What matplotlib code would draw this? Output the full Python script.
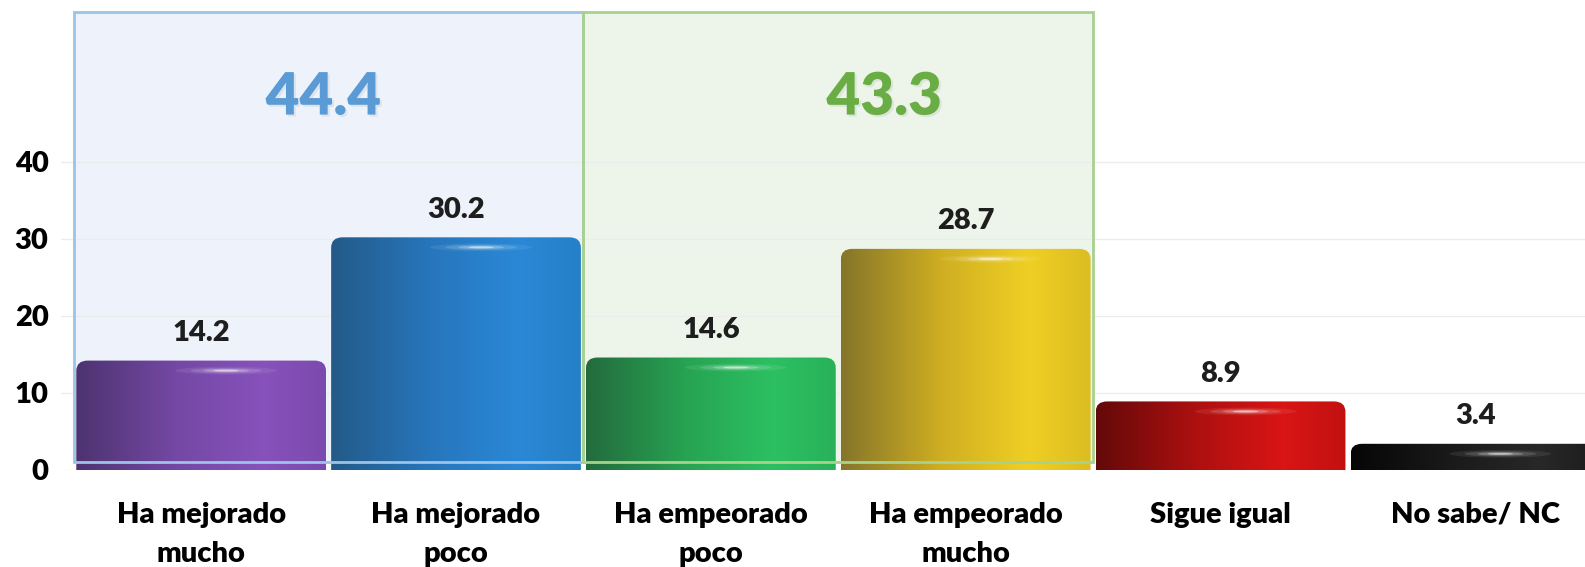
import matplotlib.pyplot as plt
import matplotlib.patheffects as pe
import numpy as np
from matplotlib.colors import LinearSegmentedColormap
from matplotlib.patches import FancyBboxPatch, Rectangle, Ellipse

plt.rcParams['font.family'] = ['Lato', 'DejaVu Sans']
plt.rcParams['font.weight'] = 'bold'

categories = ['Ha mejorado\nmucho', 'Ha mejorado\npoco', 'Ha empeorado\npoco',
              'Ha empeorado\nmucho', 'Sigue igual', 'No sabe/ NC']
values = [14.2, 30.2, 14.6, 28.7, 8.9, 3.4]
labels = ['14.2', '30.2', '14.6', '28.7', '8.9', '3.4']
# grupos: mejorado (0-1) y empeorado (2-3)
group_totals = ['44.4', '43.3']
yticks = [0, 10, 20, 30, 40]

# degradados de cada cilindro: izquierda oscura -> brillo -> borde
bar_colors = [
    ['#4d3370', '#7448a4', '#8752bb', '#7c4aae'],
    ['#235a88', '#2776bc', '#2a88d6', '#2680c8'],
    ['#236b3d', '#27a352', '#2cc062', '#29b159'],
    ['#85752a', '#cfae22', '#efcf24', '#dcbd22'],
    ['#640909', '#ad1010', '#d91515', '#c21111'],
    ['#060606', '#1a1a1a', '#282828', '#1c1c1c'],
]

fig = plt.figure(figsize=(15.85, 5.67), dpi=100)
ax = fig.add_axes([61 / 1585, 97 / 567, 1 - 61 / 1585, 470 / 567])

x = np.arange(len(values))
bars = ax.bar(x, values, width=0.98, color='none', zorder=2)

grad = np.linspace(0, 1, 256).reshape(1, -1)
for rect, cols in zip(bars, bar_colors):
    x0, w, h = rect.get_x(), rect.get_width(), rect.get_height()
    cmap = LinearSegmentedColormap.from_list('c', list(zip([0, 0.4, 0.75, 1.0], cols)))
    shape = FancyBboxPatch((x0, -3), w, h + 3, boxstyle='round,pad=0,rounding_size=0.045',
                           mutation_aspect=30, transform=ax.transData,
                           facecolor='none', edgecolor='none')
    ax.add_patch(shape)
    im = ax.imshow(grad, cmap=cmap, extent=(x0, x0 + w, 0, h), aspect='auto',
                   interpolation='bilinear', zorder=2)
    im.set_clip_path(shape)
    # brillo del borde superior
    cx = x0 + w * 0.6
    for k, a in zip([1.0, 0.7, 0.45, 0.25], [0.08, 0.14, 0.25, 0.5]):
        ax.add_patch(Ellipse((cx, h - 1.3), 0.4 * k, 1.0 * k, facecolor='white',
                             edgecolor='none', alpha=a, zorder=2.5))

ax.set_xlim(-0.55, 5.43)
ax.set_ylim(0, 61)

# recuadros de grupo
boxes = [(-0.5, 1.5, '#eef3fb', '#9dc3e6', '#5b9bd5', 0.48),
         (1.5, 3.5, '#edf5ea', '#a9d18e', '#6aad45', 2.68)]
for (xa, xb, face, edge, tcol, tx), tot in zip(boxes, group_totals):
    ax.add_patch(Rectangle((xa, 1), xb - xa, 58.5, facecolor=face, edgecolor='none', zorder=0.2))
    ax.add_patch(Rectangle((xa, 1), xb - xa, 58.5, facecolor='none', edgecolor=edge,
                           lw=2, zorder=3))
    ax.text(tx, 48.4, tot, color=tcol, fontsize=42, fontweight='heavy', ha='center',
            va='center', zorder=4,
            path_effects=[pe.withSimplePatchShadow(offset=(1.5, -1.5), alpha=0.08)])

for xi, v, lab in zip(x, values, labels):
    ax.text(xi, v + 3.6, lab, ha='center', va='center', fontsize=21, fontweight='heavy',
            color='#1e1e1e', zorder=4)

ax.set_yticks(yticks)
ax.set_yticklabels([str(t) for t in yticks], fontsize=21, fontweight='heavy')
ax.set_xticks(x)
ax.set_xticklabels(categories, fontsize=21, fontweight='heavy', linespacing=1.6)
ax.tick_params(axis='both', length=0)
ax.tick_params(axis='y', pad=9)
ax.tick_params(axis='x', pad=23)
ax.yaxis.grid(True, color='#ececec', lw=1)
ax.set_axisbelow(True)
for s in ax.spines.values():
    s.set_visible(False)

fig.savefig('out.png', dpi=100)
